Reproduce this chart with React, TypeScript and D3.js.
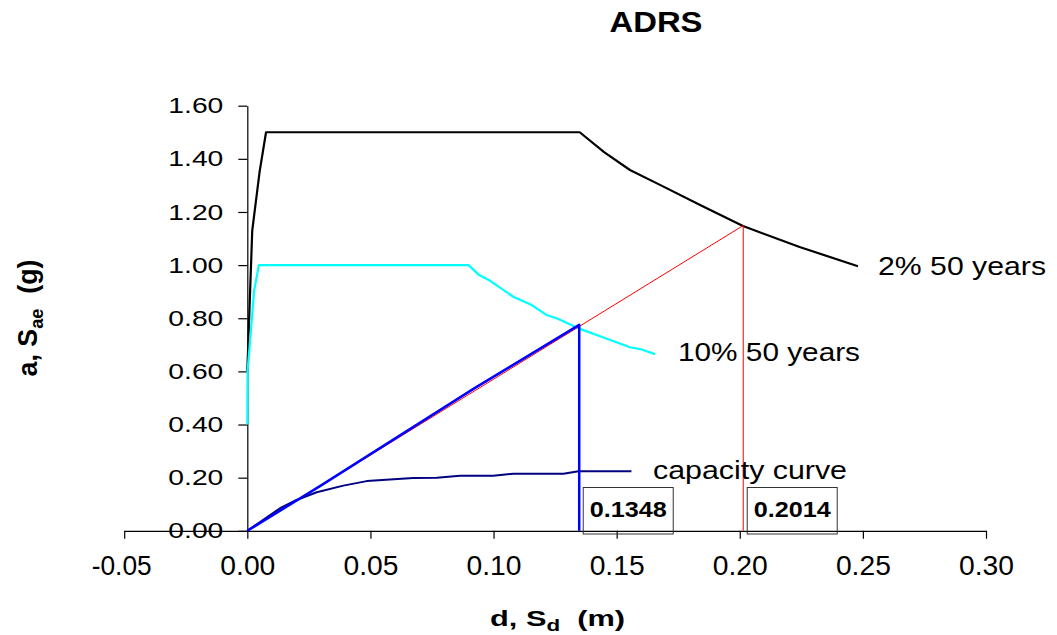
import React, { useEffect, useRef } from "react";
import * as d3 from "d3";

const W = 1057;
const H = 635;

const xTicks = [-0.05, 0, 0.05, 0.1, 0.15, 0.2, 0.25, 0.3];
const yTicks = [0, 0.2, 0.4, 0.6, 0.8, 1.0, 1.2, 1.4, 1.6];

// 2% in 50 years spectrum (Sd in m, Sa in g)
const spec2Sd = [0, 0.002, 0.005, 0.0076, 0.135, 0.1449, 0.1554, 0.1676, 0.1839, 0.2013, 0.2243, 0.248];
const spec2Sa = [0.6, 1.13, 1.352, 1.5, 1.5, 1.425, 1.358, 1.302, 1.226, 1.147, 1.068, 0.996];

// 10% in 50 years spectrum
const spec10Sd = [0, 0.0001, 0.0028, 0.0047, 0.0899, 0.0938, 0.0986, 0.108, 0.1155, 0.1216, 0.1263, 0.1351, 0.1466, 0.1554, 0.1595, 0.1656];
const spec10Sa = [0.4, 0.6, 0.906, 1.0, 1.0, 0.965, 0.941, 0.881, 0.85, 0.812, 0.797, 0.76, 0.721, 0.691, 0.684, 0.665];

// capacity curve
const capSd = [0, 0.0133, 0.02, 0.0282, 0.039, 0.0485, 0.0674, 0.077, 0.0864, 0.0999, 0.108, 0.1284, 0.1345, 0.156];
const capSa = [0, 0.085, 0.116, 0.145, 0.17, 0.187, 0.199, 0.2, 0.207, 0.207, 0.215, 0.215, 0.224, 0.224];

// demand lines to performance points
const bluePathSd = [0, 0.0295, 0.092, 0.1348, 0.1348];
const bluePathSa = [0, 0.168, 0.535, 0.775, 0];
const redPathSd = [0, 0.2014, 0.2014];
const redPathSa = [0, 1.149, 0];

const perfPoints = ["0.1348", "0.2014"];
const perfSd = [0.1348, 0.2014];

const FONT = "'Liberation Sans', Arial, sans-serif";

const App = () => {
  const svgRef = useRef<SVGSVGElement>(null);

  useEffect(() => {
    const svg = d3.select(svgRef.current);
    svg.selectAll("*").remove();
    svg.attr("font-family", FONT);

    const x = d3.scaleLinear().domain([-0.05, 0.3]).range([124.2, 986]);
    const y = d3.scaleLinear().domain([0, 1.6]).range([530.8, 105.7]);
    const fmt = (d: number) => d.toFixed(2).replace("\u2212", "-");

    // Title
    svg
      .append("text")
      .attr("x", 656)
      .attr("y", 31.5)
      .attr("text-anchor", "middle")
      .attr("font-weight", "bold")
      .attr("font-size", 29)
      .attr("textLength", 93)
      .attr("lengthAdjust", "spacingAndGlyphs")
      .text("ADRS");

    // y axis
    const gy = svg
      .append("g")
      .attr("transform", `translate(${x(0)},0)`)
      .call(
        d3
          .axisLeft(y)
          .tickValues(yTicks)
          .tickSize(9)
          .tickSizeOuter(0)
          .tickPadding(15)
          .tickFormat(fmt as any)
      );
    gy.select(".domain").attr("stroke", "#000").attr("stroke-width", 1.2);
    gy.selectAll(".tick line").attr("stroke", "#000").attr("stroke-width", 1.2);
    gy.selectAll(".tick text")
      .attr("font-family", FONT)
      .attr("font-size", 22)
      .attr("fill", "#000")
      .attr("textLength", 55)
      .attr("lengthAdjust", "spacingAndGlyphs");

    // x axis
    const gx = svg
      .append("g")
      .attr("transform", `translate(0,${y(0)})`)
      .call(
        d3
          .axisBottom(x)
          .tickValues(xTicks)
          .tickSize(8)
          .tickSizeOuter(0)
          .tickFormat(fmt as any)
      );
    gx.select(".domain").attr("stroke", "#000").attr("stroke-width", 1.2);
    gx.selectAll(".tick line").attr("stroke", "#000").attr("stroke-width", 1.2);
    gx.selectAll<SVGTextElement, number>(".tick text")
      .attr("font-family", FONT)
      .attr("font-size", 28)
      .attr("fill", "#000")
      .attr("y", 44)
      .attr("dy", 0)
      .attr("dx", (d) => (d < 0 ? -3 : 0))
      .attr("textLength", (d) => (d < 0 ? 60 : 55))
      .attr("lengthAdjust", "spacingAndGlyphs");

    const line = d3
      .line<[number, number]>()
      .x((d) => x(d[0]))
      .y((d) => y(d[1]));

    const series = [
      { sd: spec2Sd, sa: spec2Sa, color: "#000000", w: 2.2 },
      { sd: spec10Sd, sa: spec10Sa, color: "#00FFFF", w: 2.2 },
      { sd: capSd, sa: capSa, color: "#000080", w: 2 },
      { sd: redPathSd, sa: redPathSa, color: "#FF0000", w: 1 },
      { sd: bluePathSd, sa: bluePathSa, color: "#0000FF", w: 2.5 },
    ];

    series.forEach((s) => {
      svg
        .append("path")
        .datum(d3.zip(s.sd, s.sa) as [number, number][])
        .attr("fill", "none")
        .attr("stroke", s.color)
        .attr("stroke-width", s.w)
        .attr("stroke-linejoin", "round")
        .attr("d", line);
    });

    // series labels
    const labels = [
      { t: "2% 50 years", x: 878, y: 275, len: 168 },
      { t: "10% 50 years", x: 678, y: 360.5, len: 182 },
      { t: "capacity curve", x: 653, y: 479, len: 194 },
    ];
    labels.forEach((l) => {
      svg
        .append("text")
        .attr("x", l.x)
        .attr("y", l.y)
        .attr("font-size", 26)
        .attr("textLength", l.len)
        .attr("lengthAdjust", "spacingAndGlyphs")
        .text(l.t);
    });

    // performance point boxes
    perfPoints.forEach((p, i) => {
      const bx = x(perfSd[i]) + 4;
      svg
        .append("rect")
        .attr("x", bx)
        .attr("y", 487.5)
        .attr("width", 90)
        .attr("height", 46.5)
        .attr("fill", "none")
        .attr("stroke", "#333")
        .attr("stroke-width", 1);
      svg
        .append("text")
        .attr("x", bx + 45)
        .attr("y", 517)
        .attr("text-anchor", "middle")
        .attr("font-weight", "bold")
        .attr("font-size", 22)
        .attr("textLength", 77)
        .attr("lengthAdjust", "spacingAndGlyphs")
        .text(p);
    });

    // x axis title
    const xt = svg
      .append("text")
      .attr("font-weight", "bold")
      .attr("font-size", 22)
      .attr("text-anchor", "middle");
    xt.append("tspan").text("d, S");
    xt.append("tspan").attr("font-size", 16).attr("dy", 5).text("d");
    xt.append("tspan").attr("dy", -5).text("\u00a0 (m)");
    const xw = (xt.node() as SVGTextElement).getBBox().width;
    xt.attr("transform", `translate(557.5,626) scale(${135 / xw},1)`);

    // y axis title
    const yt = svg
      .append("text")
      .attr("font-weight", "bold")
      .attr("font-size", 28)
      .attr("text-anchor", "middle");
    yt.append("tspan").text("a, S");
    yt.append("tspan").attr("font-size", 19).attr("dy", 6).text("ae");
    yt.append("tspan").attr("dy", -6).text("\u00a0 (g)");
    const yw = (yt.node() as SVGTextElement).getBBox().width;
    yt.attr("transform", `translate(37,318) rotate(-90) scale(${117 / yw},1)`);
  }, []);

  return (
    <svg
      ref={svgRef}
      width={W}
      height={H}
      style={{ position: "absolute", left: 0, top: 0, background: "#fff" }}
    />
  );
};

export default App;
